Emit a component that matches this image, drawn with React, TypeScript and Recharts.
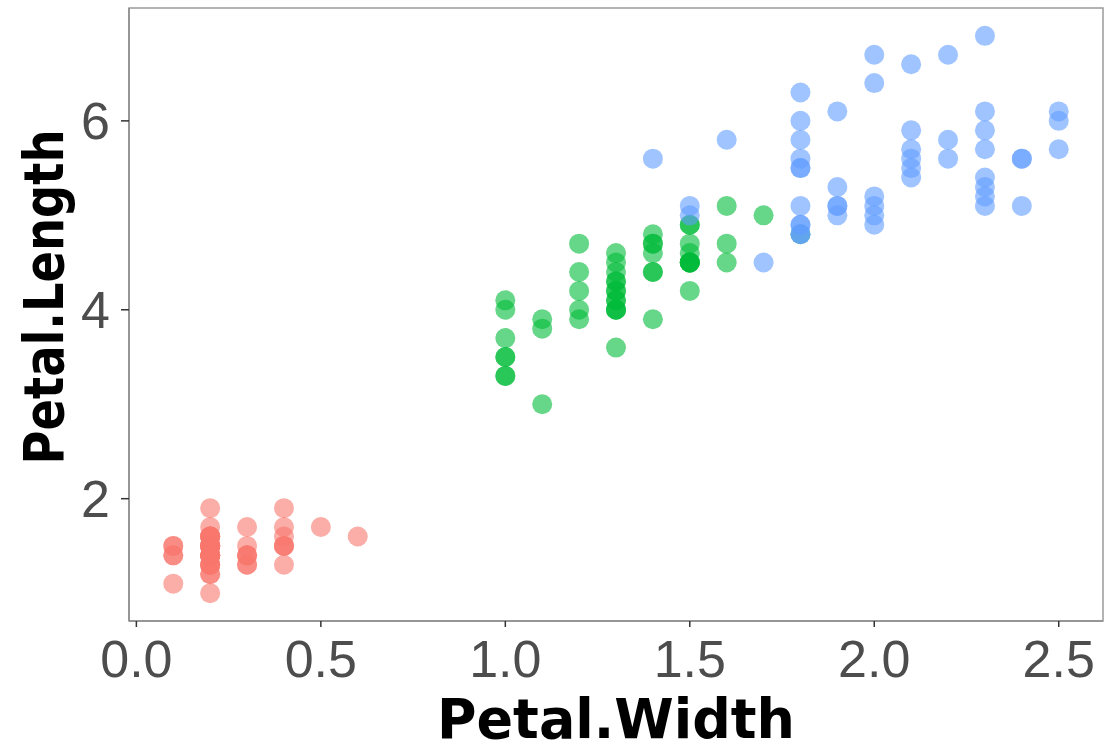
import {
  ScatterChart,
  Scatter,
  XAxis,
  YAxis,
  ReferenceArea,
} from "recharts"

// iris petal measurements, per species
const setosaWidth = [
  0.2, 0.2, 0.2, 0.2, 0.2, 0.4, 0.3, 0.2, 0.2, 0.1, 0.2, 0.2, 0.1, 0.1, 0.2, 0.4, 0.4, 0.3, 0.3, 0.3, 0.2, 0.4, 0.2, 0.5, 0.2,
  0.2, 0.4, 0.2, 0.2, 0.2, 0.2, 0.4, 0.1, 0.2, 0.2, 0.2, 0.2, 0.1, 0.2, 0.2, 0.3, 0.3, 0.2, 0.6, 0.4, 0.3, 0.2, 0.2, 0.2, 0.2,
]
const setosaLength = [
  1.4, 1.4, 1.3, 1.5, 1.4, 1.7, 1.4, 1.5, 1.4, 1.5, 1.5, 1.6, 1.4, 1.1, 1.2, 1.5, 1.3, 1.4, 1.7, 1.5, 1.7, 1.5, 1.0, 1.7, 1.9,
  1.6, 1.6, 1.5, 1.4, 1.6, 1.6, 1.5, 1.5, 1.4, 1.5, 1.2, 1.3, 1.4, 1.3, 1.5, 1.3, 1.3, 1.3, 1.6, 1.9, 1.4, 1.6, 1.4, 1.5, 1.4,
]
const versicolorWidth = [
  1.4, 1.5, 1.5, 1.3, 1.5, 1.3, 1.6, 1.0, 1.3, 1.4, 1.0, 1.5, 1.0, 1.4, 1.3, 1.4, 1.5, 1.0, 1.5, 1.1, 1.8, 1.3, 1.5, 1.2, 1.3,
  1.4, 1.4, 1.7, 1.5, 1.0, 1.1, 1.0, 1.2, 1.6, 1.5, 1.6, 1.5, 1.3, 1.3, 1.3, 1.2, 1.4, 1.2, 1.0, 1.3, 1.2, 1.3, 1.3, 1.1, 1.3,
]
const versicolorLength = [
  4.7, 4.5, 4.9, 4.0, 4.6, 4.5, 4.7, 3.3, 4.6, 3.9, 3.5, 4.2, 4.0, 4.7, 3.6, 4.4, 4.5, 4.1, 4.5, 3.9, 4.8, 4.0, 4.9, 4.7, 4.3,
  4.4, 4.8, 5.0, 4.5, 3.5, 3.8, 3.7, 3.9, 5.1, 4.5, 4.5, 4.7, 4.4, 4.1, 4.0, 4.4, 4.6, 4.0, 3.3, 4.2, 4.2, 4.2, 4.3, 3.0, 4.1,
]
const virginicaWidth = [
  2.5, 1.9, 2.1, 1.8, 2.2, 2.1, 1.7, 1.8, 1.8, 2.5, 2.0, 1.9, 2.1, 2.0, 2.4, 2.3, 1.8, 2.2, 2.3, 1.5, 2.3, 2.0, 2.0, 1.8, 2.1,
  1.8, 1.8, 1.8, 2.1, 1.6, 1.9, 2.0, 2.2, 1.5, 1.4, 2.3, 2.4, 1.8, 1.8, 2.1, 2.4, 2.3, 1.9, 2.3, 2.5, 2.3, 1.9, 2.0, 2.3, 1.8,
]
const virginicaLength = [
  6.0, 5.1, 5.9, 5.6, 5.8, 6.6, 4.5, 6.3, 5.8, 6.1, 5.1, 5.3, 5.5, 5.0, 5.1, 5.3, 5.5, 6.7, 6.9, 5.0, 5.7, 4.9, 6.7, 4.9, 5.7,
  6.0, 4.8, 4.9, 5.6, 5.8, 6.1, 6.4, 5.6, 5.1, 5.6, 6.1, 5.6, 5.5, 4.8, 5.4, 5.6, 5.1, 5.1, 5.9, 5.7, 5.2, 5.0, 5.2, 5.4, 5.1,
]

const xTicks = [0, 0.5, 1, 1.5, 2, 2.5]
const yTicks = [2, 4, 6]
const xDomain = [-0.02, 2.62]
const yDomain = [0.705, 7.195]

const toPoints = (xs: number[], ys: number[]) => xs.map((x, i) => ({ x, y: ys[i] }))

const series = [
  { name: "setosa", color: "#F8766D", data: toPoints(setosaWidth, setosaLength) },
  { name: "versicolor", color: "#00BA38", data: toPoints(versicolorWidth, versicolorLength) },
  { name: "virginica", color: "#619CFF", data: toPoints(virginicaWidth, virginicaLength) },
]

const tickStyle = { fill: "#4D4D4D", fontSize: 52, fontFamily: "Liberation Sans, Arial, sans-serif" }
const titleFont = "'Comic Sans MS', 'DejaVu Sans', sans-serif"

const dot = (color: string) => (p: any) => (
  <circle cx={p.cx} cy={p.cy} r={10} fill={color} fillOpacity={0.6} />
)

export default function App() {
  return (
    <div style={{ position: "absolute", left: 0, top: 0, background: "#fff" }}>
      <ScatterChart width={1105} height={753} margin={{ top: 8, right: 2, bottom: 0, left: 0 }}>
        <XAxis
          type="number"
          dataKey="x"
          domain={xDomain}
          ticks={xTicks}
          allowDataOverflow
          height={132}
          tickFormatter={(v: number) => v.toFixed(1)}
          tick={tickStyle}
          tickSize={6}
          tickMargin={13}
          tickLine={{ stroke: "#333", strokeWidth: 1.5 }}
          axisLine={{ stroke: "#8c8c8c", strokeWidth: 1.5 }}
          label={(props: any) => {
            const vb = props.viewBox
            return (
              <text
                x={vb.x + vb.width / 2}
                y={vb.y + 117}
                textAnchor="middle"
                fontSize={56}
                fontWeight="bold"
                fontFamily={titleFont}
                fill="#000"
                textLength={358}
                lengthAdjust="spacingAndGlyphs"
              >
                Petal.Width
              </text>
            )
          }}
        />
        <YAxis
          type="number"
          dataKey="y"
          domain={yDomain}
          ticks={yTicks}
          allowDataOverflow
          width={129}
          tick={tickStyle}
          tickSize={8}
          tickMargin={11}
          tickLine={{ stroke: "#333", strokeWidth: 1.5 }}
          axisLine={{ stroke: "#8c8c8c", strokeWidth: 1.5 }}
          label={() => {
            const cy = 297
            return (
              <text
                x={63}
                y={cy}
                transform={`rotate(-90 63 ${cy})`}
                textAnchor="middle"
                fontSize={56}
                fontWeight="bold"
                fontFamily={titleFont}
                fill="#000"
                textLength={335}
                lengthAdjust="spacingAndGlyphs"
              >
                Petal.Length
              </text>
            )
          }}
        />
        <ReferenceArea
          x1={xDomain[0]}
          x2={xDomain[1]}
          y1={yDomain[0]}
          y2={yDomain[1]}
          fill="none"
          stroke="#9a9a9a"
          strokeWidth={1.5}
        />
        {series.map((s) => (
          <Scatter
            key={s.name}
            name={s.name}
            data={s.data}
            shape={dot(s.color)}
            isAnimationActive={false}
          />
        ))}
      </ScatterChart>
    </div>
  )
}
